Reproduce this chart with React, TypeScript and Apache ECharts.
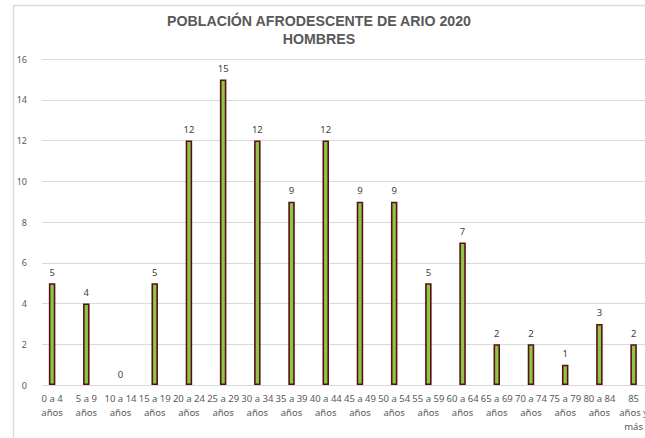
import React, { useEffect, useRef } from "react";
import * as echarts from "echarts";

const categories = [
  "0 a 4\naños", "5 a 9\naños", "10 a 14\naños", "15 a 19\naños", "20 a 24\naños",
  "25 a 29\naños", "30 a 34\naños", "35 a 39\naños", "40 a 44\naños", "45 a 49\naños",
  "50 a 54\naños", "55 a 59\naños", "60 a 64\naños", "65 a 69\naños", "70 a 74\naños",
  "75 a 79\naños", "80 a 84\naños", "85\naños y\nmás",
];
const values = [5, 4, 0, 5, 12, 15, 12, 9, 12, 9, 9, 5, 7, 2, 2, 1, 3, 2];
const titleLines = ["POBLACIÓN AFRODESCENTE DE ARIO 2020", "HOMBRES"];

export default function App() {
  const ref = useRef<HTMLDivElement>(null);
  useEffect(() => {
    if (!ref.current) return;
    const chart = echarts.init(ref.current, null, { renderer: "svg" });
    chart.setOption({
      animation: false,
      backgroundColor: "#ffffff",
      title: {
        text: titleLines.join("\n"),
        left: 314,
        textAlign: "center",
        top: 7,
        textStyle: {
          fontFamily: "Liberation Sans, Arial",
          fontSize: 14.2,
          fontWeight: "bold",
          color: "#595959",
          lineHeight: 18,
        },
      },
      grid: { left: 35, right: 0, top: 59, bottom: 53 },
      xAxis: {
        type: "category",
        data: categories,
        axisLine: { lineStyle: { color: "#d9d9d9", width: 1 } },
        axisTick: { show: false },
        axisLabel: {
          interval: 0,
          color: "#595959",
          fontSize: 9.5,
          fontFamily: "Noto Sans",
          lineHeight: 14,
          margin: 6,
        },
      },
      yAxis: {
        type: "value",
        min: 0,
        max: 16,
        interval: 2,
        axisLine: { show: false },
        axisTick: { show: false },
        splitLine: { lineStyle: { color: "#d9d9d9", width: 1 } },
        axisLabel: {
          color: "#595959",
          fontSize: 9,
          fontFamily: "Noto Sans",
          margin: 8,
        },
      },
      series: [
        {
          type: "bar",
          data: values.map((v) => (v === 0 ? { value: v, itemStyle: { borderWidth: 0 } } : v)),
          barWidth: 6.5,
          itemStyle: { color: "#8dc63f", borderColor: "#5a0f1e", borderWidth: 1.6 },
          label: {
            show: true,
            position: "top",
            distance: 6,
            color: "#404040",
            fontSize: 9.5,
            fontFamily: "Noto Sans",
          },
        },
      ],
      graphic: [
        {
          type: "rect",
          z: 100,
          shape: { x: 34, y: 55, width: 8, height: 332 },
          style: { fill: "#ffffff" },
        },
        {
          type: "rect",
          z: 101,
          shape: { x: 13.5, y: 5.5, width: 700, height: 500 },
          style: { fill: "none", stroke: "#d9d9d9", lineWidth: 1.5 },
        },
      ],
    });
    return () => chart.dispose();
  }, []);
  return (
    <div style={{ position: "absolute", left: 0, top: 0, width: 645, height: 438, overflow: "hidden" }}>
      <div ref={ref} style={{ width: 651, height: 438 }} />
    </div>
  );
}
